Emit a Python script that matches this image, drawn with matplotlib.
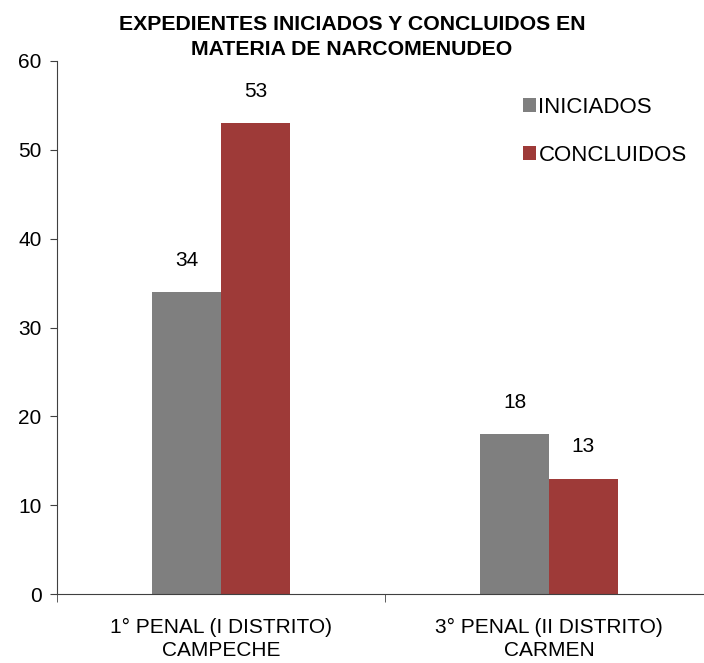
import matplotlib.pyplot as plt
import numpy as np

categories = ["1° PENAL (I DISTRITO)\nCAMPECHE", "3° PENAL (II DISTRITO)\nCARMEN"]
iniciados = [34, 18]
concluidos = [53, 13]
series_names = ["INICIADOS", "CONCLUIDOS"]
colors = ["#7f7f7f", "#9e3a38"]

plt.rcParams['font.family'] = ['Liberation Sans', 'DejaVu Sans']

fig = plt.figure(figsize=(7.04, 6.63), dpi=100)
ax = fig.add_axes([57 / 704, 69 / 663, 656 / 704, 533 / 663])

x = np.arange(len(categories))
w = 0.21
b1 = ax.bar(x - w / 2, iniciados, w, color=colors[0], label=series_names[0])
b2 = ax.bar(x + w / 2, concluidos, w, color=colors[1], label=series_names[1])

for bars, vals in ((b1, iniciados), (b2, concluidos)):
    for rect, v in zip(bars, vals):
        ax.annotate(str(v), (rect.get_x() + rect.get_width() / 2, v),
                    xytext=(0, 23), textcoords='offset points',
                    ha='center', va='center', fontsize=15)

ax.set_xlim(-0.5, 1.5)
ax.set_ylim(0, 60)
ax.set_yticks(range(0, 61, 10))
ax.set_xticks(x)
ax.set_xticklabels(categories, fontsize=15, linespacing=1.3)
ax.set_xticks([-0.5, 0.5, 1.5], minor=True)
ax.tick_params(axis='x', which='major', length=0, pad=17)
ax.tick_params(axis='x', which='minor', length=6, direction='out', color='#404040')
ax.tick_params(axis='y', labelsize=15, length=5, color='#404040', pad=6)

for s in ('top', 'right'):
    ax.spines[s].set_visible(False)
for s in ('left', 'bottom'):
    ax.spines[s].set_color('#404040')

fig.text(0.5, 0.944, "EXPEDIENTES INICIADOS Y CONCLUIDOS EN\nMATERIA DE NARCOMENUDEO",
         ha='center', va='center', fontsize=15.3, fontweight='bold', linespacing=1.4)

ax.legend(loc='upper left', bbox_to_anchor=(514 / 704, 1 - 88 / 663),
          bbox_transform=fig.transFigure, frameon=False, fontsize=16,
          handlelength=0.6, handleheight=0.6, handletextpad=0.1,
          labelspacing=1.2, borderaxespad=0)

fig.savefig("out.png", dpi=100)
